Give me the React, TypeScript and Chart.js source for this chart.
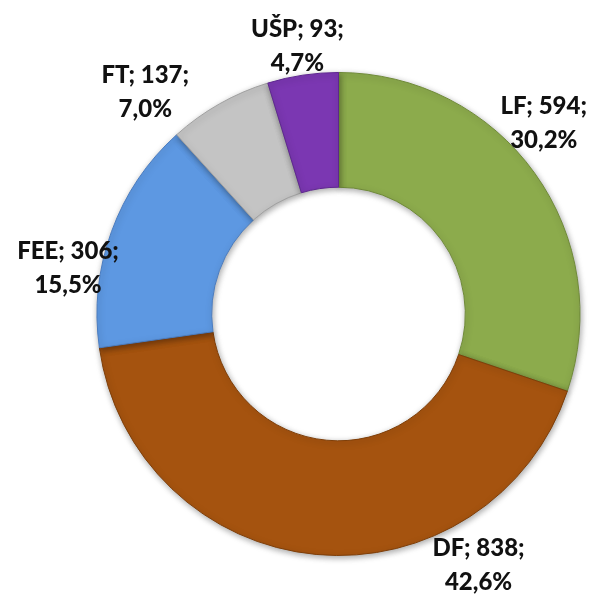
import React, { useEffect, useRef } from "react";
import { Chart, registerables } from "chart.js";

Chart.register(...registerables);

const categories = ["LF", "DF", "FEE", "FT", "UŠP"];
const values = [594, 838, 306, 137, 93];
const percents = ["30,2%", "42,6%", "15,5%", "7,0%", "4,7%"];
const colors = ["#8cab4c", "#a5530f", "#5d98e2", "#c4c4c4", "#7b37b2"];
const borders = ["#6f8a38", "#7e3e08", "#4a7cc0", "#a0a0a0", "#5e2690"];
// label block centers relative to chart center, in units of outer radius
const labelOffsets = [
  [0.85, -0.79],
  [0.58, 1.04],
  [-1.12, -0.19],
  [-0.8, -0.92],
  [-0.17, -1.11],
];

const labelPlugin = {
  id: "outLabels",
  afterDatasetsDraw(chart: any) {
    const ctx = chart.ctx;
    const meta = chart.getDatasetMeta(0);
    const arc0 = meta.data[0] as any;
    const cx = arc0.x;
    const cy = arc0.y;
    const R = arc0.outerRadius;
    ctx.save();
    ctx.fillStyle = "#111";
    ctx.font = "900 24px Lato, 'Open Sans', sans-serif";
    ctx.textAlign = "center";
    ctx.textBaseline = "middle";
    categories.forEach((c, i) => {
      const x = cx + labelOffsets[i][0] * R;
      const y = cy + labelOffsets[i][1] * R;
      ctx.fillText(`${c}; ${values[i]};`, x, y - 17);
      ctx.fillText(percents[i], x, y + 17);
    });
    ctx.restore();
  },
};

const shadowPlugin = {
  id: "arcShadow",
  beforeDatasetsDraw(chart: any) {
    const ctx = chart.ctx;
    ctx.save();
    ctx.shadowColor = "rgba(0,0,0,0.35)";
    ctx.shadowBlur = 6;
    ctx.shadowOffsetX = 1;
    ctx.shadowOffsetY = 2;
  },
  afterDatasetsDraw(chart: any) {
    chart.ctx.restore();
  },
};

export default function App() {
  const ref = useRef<HTMLCanvasElement>(null);
  useEffect(() => {
    document.body.style.margin = "0";
    document.body.style.background = "#fff";
    const chart = new Chart(ref.current!, {
      type: "doughnut",
      data: {
        labels: categories,
        datasets: [
          {
            data: values,
            backgroundColor: colors,
            borderColor: borders,
            borderWidth: 1,
          },
        ],
      },
      options: {
        responsive: false,
        animation: false,
        cutout: "52.5%",
        layout: { padding: { left: 95, right: 15, top: 72, bottom: 40 } },
        plugins: {
          legend: { display: false },
          tooltip: { enabled: false },
        },
      },
      plugins: [shadowPlugin, labelPlugin],
    });
    return () => chart.destroy();
  }, []);
  return <canvas ref={ref} width={597} height={596} style={{ display: "block" }} />;
}
